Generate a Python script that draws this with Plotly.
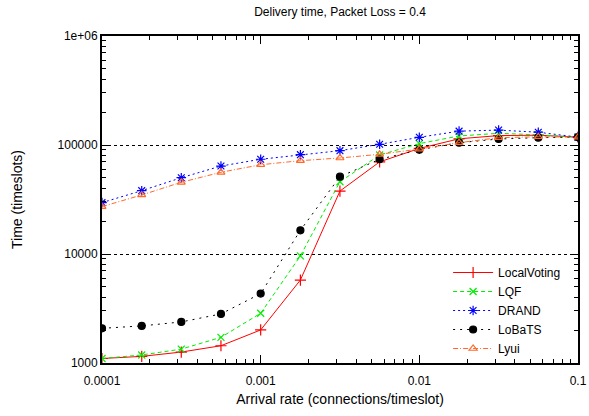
import plotly.graph_objects as go

# ---- data ----
arrival_rate = [0.0001, 0.000178, 0.000316, 0.000562, 0.001, 0.00178, 0.00316,
                0.00562, 0.01, 0.0178, 0.0316, 0.0562, 0.1]
local_voting = [1100, 1150, 1260, 1440, 2010, 5770, 37800, 70000, 93000, 114000, 122000, 123000, 118000]
lqf = [1100, 1185, 1340, 1720, 2860, 9600, 46000, 81000, 103000, 121000, 128000, 124000, 118000]
drand = [29600, 38100, 50100, 64100, 74000, 81500, 88700, 101500, 117700, 134000, 137000, 131000, 118000]
lobats = [2080, 2190, 2380, 2820, 4330, 16500, 51200, 74000, 90500, 105000, 113500, 116700, 118000]
lyui = [27200, 34800, 45500, 56200, 65900, 71800, 76000, 82200, 91800, 105000, 116700, 119000, 118000]

x_tick_vals = [0.0001, 0.001, 0.01, 0.1]
x_tick_text = ["0.0001", "0.001", "0.01", "0.1"]
y_tick_vals = [1000, 10000, 100000, 1000000]
y_tick_text = ["1000", "10000", "100000", "1e+06"]

series = [
    ("LocalVoting", local_voting, "#ff0000", "solid", "cross-thin-open", 8),
    ("LQF", lqf, "#00ee00", "4px,3px", "x-thin-open", 7),
    ("DRAND", drand, "#0000ff", "2px,3px", "asterisk-open", 8),
    ("LoBaTS", lobats, "#000000", "2px,5px", "circle", 7),
    ("Lyui", lyui, "#ff6a2a", "5px,2px,1px,2px", "triangle-up-open", 7),
]

fig = go.Figure()
for name, vals, color, dash, symbol, size in series:
    fig.add_trace(go.Scatter(
        x=arrival_rate, y=vals, name=name, mode="lines+markers",
        line=dict(color=color, width=1, dash=dash),
        marker=dict(symbol=symbol, size=size, color=color,
                    line=dict(color=color, width=1.2)),
    ))

minor_x = [m * 10 ** e for e in range(-4, -1) for m in range(2, 10)]
minor_y = [m * 10 ** e for e in range(3, 6) for m in range(2, 10)]

font_family = "Liberation Sans, Arial, sans-serif"

fig.update_layout(
    width=589, height=416,
    margin=dict(l=102, r=11, t=36, b=53),
    paper_bgcolor="white", plot_bgcolor="white",
    font=dict(family=font_family, size=12, color="black"),
    title=dict(text="Delivery time, Packet Loss = 0.4", x=0.5, xref="paper",
               y=1 - 12 / 416, yref="container", yanchor="middle",
               font=dict(size=12)),
    showlegend=True,
    legend=dict(x=0.975, y=0.0, xanchor="right", yanchor="bottom",
                bgcolor="rgba(0,0,0,0)", font=dict(size=12),
                tracegroupgap=0, itemwidth=40),
)

fig.update_xaxes(
    type="log", range=[-4, -1],
    tickvals=x_tick_vals, ticktext=x_tick_text,
    ticks="inside", ticklen=8, tickwidth=1, tickcolor="black",
    ticklabelstandoff=6,
    showline=True, linewidth=2, linecolor="black", mirror="allticks",
    showgrid=False, zeroline=False,
    minor=dict(tickvals=minor_x, ticks="inside", ticklen=4, tickcolor="black", showgrid=False),
    title=dict(text="Arrival rate (connections/timeslot)", standoff=7),
    automargin=False,
)
fig.update_yaxes(
    type="log", range=[3, 6],
    tickvals=y_tick_vals, ticktext=y_tick_text,
    ticks="inside", ticklen=8, tickwidth=1, tickcolor="black",
    showline=True, linewidth=2, linecolor="black", mirror="allticks",
    showgrid=True, gridcolor="black", gridwidth=1, griddash="dot",
    zeroline=False,
    minor=dict(tickvals=minor_y, ticks="inside", ticklen=4, tickcolor="black", showgrid=False),
    title=dict(text="Time (timeslots)", standoff=32),
    automargin=False,
)

fig.write_html("out.html", config={"displayModeBar": False},
               post_script="document.body.style.margin='0';")
